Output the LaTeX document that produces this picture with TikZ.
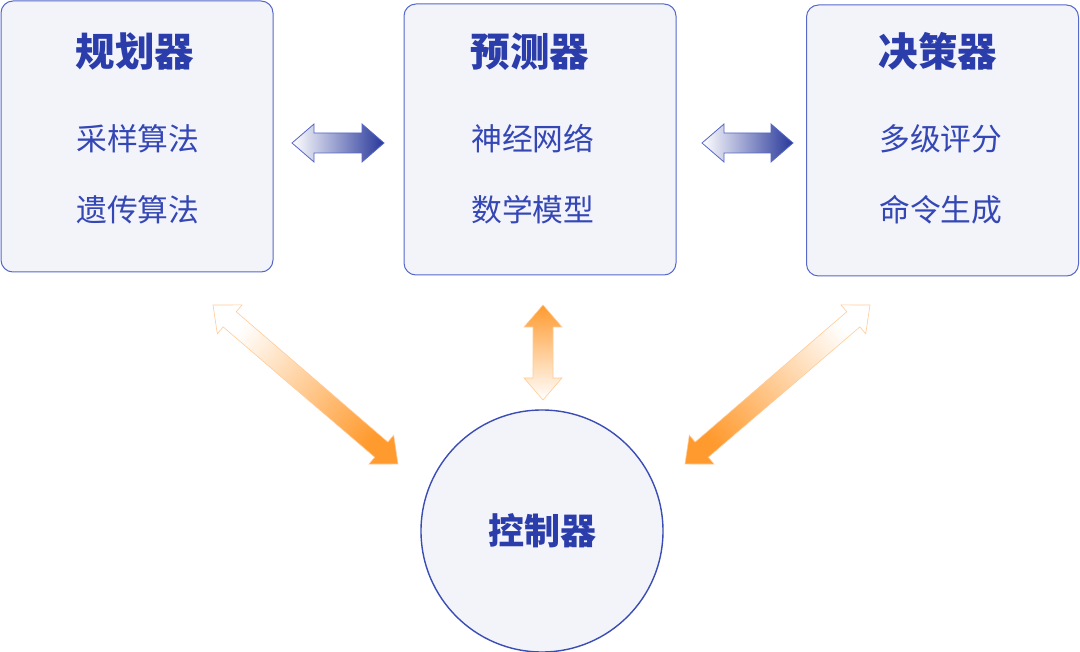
\documentclass[tikz,border=0pt]{standalone}
\usepackage{fontspec}
\setmainfont{Noto Sans CJK SC}
\usetikzlibrary{calc}
\definecolor{boxfill}{HTML}{F3F4FA}
\definecolor{boxline}{HTML}{5668C8}
\definecolor{circline}{HTML}{3A4DB5}
\definecolor{titleblue}{HTML}{2B3DAA}
\definecolor{itemblue}{HTML}{3447B5}
\definecolor{arrowblue}{HTML}{27379A}
\definecolor{arrowblueline}{HTML}{5566C4}
\definecolor{orangeA}{HTML}{FF9A2E}
\definecolor{orangeline}{HTML}{FFCB98}
\newcommand\blockarrow[3]{%
  \path[#3] let \p1=($(#2)-(#1)$), \n1={atan2(\y1,\x1)}, \n2={veclen(\x1,\y1)} in
    [shift={(#1)}, rotate=\n1] (0,0) -- (22,19) -- (22,10) -- (\n2-22,10) -- (\n2-22,19)
    -- (\n2,0) -- (\n2-22,-19) -- (\n2-22,-10) -- (22,-10) -- (22,-19) -- cycle;}
\begin{document}
\begin{tikzpicture}[x=1pt,y=1pt,
  box/.style={draw=boxline, line width=1pt, fill=boxfill, rounded corners=12pt,
    minimum width=272pt, minimum height=271pt, inner sep=0pt},
  ctrl/.style={draw=circline, line width=1.4pt, fill=boxfill, circle,
    minimum size=242pt, inner sep=0pt, font=\fontsize{36}{38}\selectfont\bfseries, text=titleblue},
  title/.style={font=\fontsize{39.5}{42}\selectfont\bfseries, text=titleblue, anchor=west, inner sep=0pt},
  item/.style={font=\fontsize{30.8}{33}\selectfont, text=itemblue, anchor=west, inner sep=0pt},
  bluearrow/.style={shade, draw=arrowblueline, line width=0.8pt, left color=white, right color=arrowblue},
  orangearrow/.style={shade, draw=orangeline, line width=0.6pt, top color=white, bottom color=orangeA}
]
\useasboundingbox (0,-652) rectangle (1080,0);
% boxes
\node[box] (plan) at (137,-136.5) {};
\node[box] (pred) at (540,-139.5) {};
\node[box] (dec) at (942.5,-140.5) {};
\node[ctrl] (ctrl) at (542,-531) {控制器};
% texts
\node[title] (t1) at (75.5,-51.5) {规划器};
\node[item] (t1a) at (76,-139) {采样算法};
\node[item] (t1b) at (76,-210) {遗传算法};
\node[title] (t2) at (470.5,-51.5) {预测器};
\node[item] (t2a) at (471,-139) {神经网络};
\node[item] (t2b) at (471,-210) {数学模型};
\node[title] (t3) at (878.5,-51.5) {决策器};
\node[item] (t3a) at (879,-139) {多级评分};
\node[item] (t3b) at (879,-210) {命令生成};
% arrow end points
\coordinate (a1s) at (292,-143);
\coordinate (a1e) at (384,-143);
\coordinate (a2s) at (702,-143);
\coordinate (a2e) at (793,-143);
\coordinate (a3s) at (213,-305);
\coordinate (a3e) at (398,-464);
\coordinate (a4s) at (543,-400);
\coordinate (a4e) at (543,-305);
\coordinate (a5s) at (870,-305);
\coordinate (a5e) at (685,-464);
% arrows
\blockarrow{a1s}{a1e}{bluearrow}
\blockarrow{a2s}{a2e}{bluearrow}
\blockarrow{a3s}{a3e}{orangearrow, shading angle=49.3}
\blockarrow{a4s}{a4e}{orangearrow, top color=orangeA, bottom color=white}
\blockarrow{a5s}{a5e}{orangearrow, shading angle=-49.3}
\end{tikzpicture}
\end{document}
